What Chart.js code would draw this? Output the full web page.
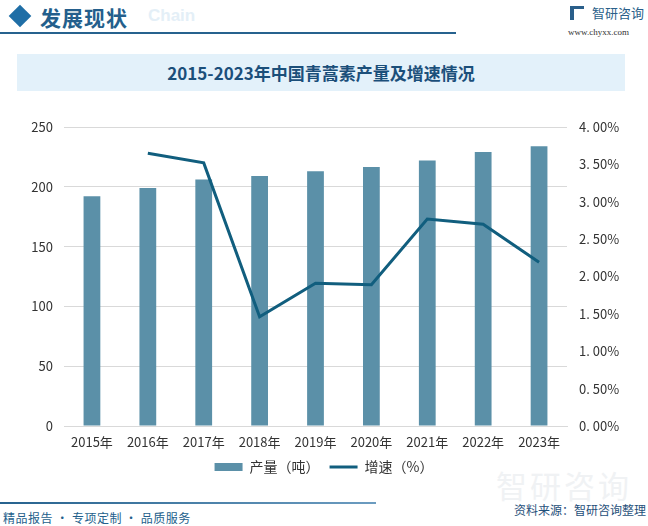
<!DOCTYPE html>
<html lang="zh">
<head>
<meta charset="UTF-8" />
<title>2015-2023年中国青蒿素产量及增速情况</title>
<script src="https://cdn.jsdelivr.net/npm/chart.js@4.4.0/dist/chart.umd.min.js"></script>
<style>
  body { margin: 0; background: #fff; }
  #wrap { position: relative; width: 648px; height: 526px; overflow: hidden; font-family: "Noto Sans CJK SC", sans-serif; }
  .abs { position: absolute; }
  #diamond { left: 12px; top: 8px; width: 16px; height: 16px; background: #1f6ea6; transform: rotate(45deg); }
  #head { left: 40px; top: 2px; font-size: 21px; font-weight: bold; color: #245f8c; letter-spacing: 1px; }
  #ghost { left: 148px; top: 6px; font-size: 17px; font-weight: bold; color: #e4eff7; font-family: "Liberation Sans", sans-serif; }
  #hline { left: 0; top: 32px; width: 456px; height: 2px; background: #26628e; }
  #logoIcon { left: 570px; top: 6px; width: 14px; height: 14px; border-left: 4px solid #2a5f8a; border-top: 3px solid #2a5f8a; box-sizing: border-box; }
  #logoTxt { left: 592px; top: 3px; font-size: 13px; color: #2a5f8a; }
  #logoUrl { left: 568px; top: 27px; font-size: 9px; color: #333; font-family: "Liberation Serif", serif; }
  #titleBox { left: 17px; top: 54px; width: 608px; height: 37px; background: #e3f1fa; color: #1b4f7a;
    font-size: 17px; font-weight: bold; text-align: center; line-height: 37px; }
  #chartBox { left: 0; top: 100px; width: 648px; height: 392px; }
  #fline { left: 0; top: 502px; width: 376px; height: 2px; background: linear-gradient(90deg, #26628e, #6c9cc0); }
  #src { right: 2px; top: 501px; font-size: 12px; color: #1f4f7a; }
  #slogan { left: 3px; top: 509px; font-size: 12px; color: #245f8c; letter-spacing: 0.5px; }
  #wm { right: 16px; top: 462px; font-size: 31px; color: #f0f2f4; letter-spacing: 3px; }
</style>
</head>
<body>
<div id="wrap">
  <div class="abs" id="diamond"></div>
  <div class="abs" id="head">发展现状</div>
  <div class="abs" id="ghost">Chain</div>
  <div class="abs" id="hline"></div>
  <div class="abs" id="logoIcon"></div>
  <div class="abs" id="logoTxt">智研咨询</div>
  <div class="abs" id="logoUrl">www.chyxx.com</div>
  <div class="abs" id="titleBox">2015-2023年中国青蒿素产量及增速情况</div>
  <div class="abs" id="wm">智研咨询</div>
  <div class="abs" id="chartBox"><canvas id="chart"></canvas></div>
  <div class="abs" id="fline"></div>
  <div class="abs" id="src">资料来源：智研咨询整理</div>
  <div class="abs" id="slogan">精品报告 · 专项定制 · 品质服务</div>
</div>
<script>
  const years = ['2015年','2016年','2017年','2018年','2019年','2020年','2021年','2022年','2023年'];
  const output = [192, 199, 206, 209, 213, 216.5, 222, 229, 234];       // 产量（吨）
  const growth = [null, 3.65, 3.52, 1.46, 1.91, 1.89, 2.77, 2.70, 2.19]; // 增速（%）

  const barColor = '#5b90a8';
  const lineColor = '#115e7e';
  const tickFont = { family: 'Noto Sans CJK SC', size: 13 };

  const ctx = document.getElementById('chart').getContext('2d');
  new Chart(ctx, {
    data: {
      labels: years,
      datasets: [
        {
          type: 'line',
          label: '增速（%）',
          data: growth,
          yAxisID: 'y1',
          borderColor: lineColor,
          backgroundColor: lineColor,
          borderWidth: 3,
          pointRadius: 0,
          tension: 0,
          pointStyle: 'line',
          order: 0
        },
        {
          type: 'bar',
          label: '产量（吨）',
          data: output,
          yAxisID: 'y',
          backgroundColor: barColor,
          categoryPercentage: 1,
          barPercentage: 0.3,
          pointStyle: 'rect',
          order: 1
        }
      ]
    },
    options: {
      responsive: true,
      maintainAspectRatio: false,
      animation: false,
      layout: { padding: { top: 27, bottom: 8 } },
      plugins: {
        tooltip: { enabled: false },
        legend: {
          position: 'bottom',
          reverse: true,
          labels: {
            usePointStyle: true,
            pointStyleWidth: 28,
            boxHeight: 8,
            padding: 10,
            color: '#333',
            font: { family: 'Noto Sans CJK SC', size: 14 }
          }
        }
      },
      scales: {
        x: {
          grid: { display: false, drawTicks: false },
          border: { color: '#d9d9d9' },
          ticks: { color: '#333', font: tickFont, padding: 8, maxRotation: 0 },
          afterFit: s => { s.height = 24; }
        },
        y: {
          position: 'left',
          min: 0, max: 250,
          ticks: { stepSize: 50, color: '#333', font: tickFont, padding: 11 },
          grid: { color: '#d9d9d9', drawTicks: false },
          border: { display: false },
          afterFit: s => { s.width = 64; }
        },
        y1: {
          position: 'right',
          min: 0, max: 4,
          ticks: {
            stepSize: 0.5, color: '#333', font: tickFont, padding: 12,
            callback: v => v.toFixed(2).replace('.', '. ') + '%'
          },
          grid: { display: false, drawTicks: false },
          border: { display: false },
          afterFit: s => { s.width = 81; }
        }
      }
    }
  });
</script>
</body>
</html>
